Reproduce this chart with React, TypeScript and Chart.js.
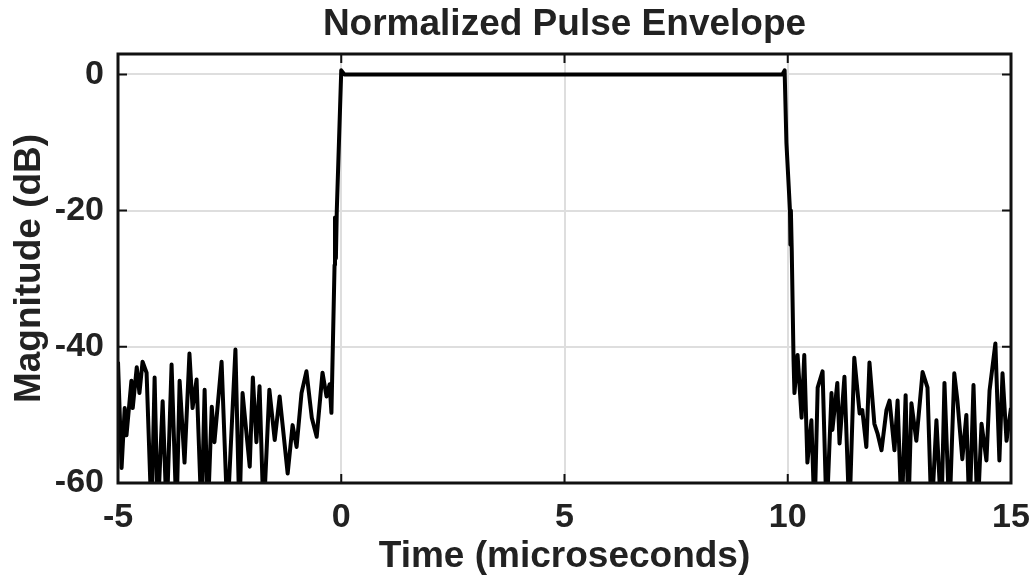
import React, { useEffect, useRef } from 'react';
import { Chart, registerables } from 'chart.js';

Chart.register(...registerables);

const chartTitle = 'Normalized Pulse Envelope';
const xAxisTitle = 'Time (microseconds)';
const yAxisTitle = 'Magnitude (dB)';
const xTicks = [-5, 0, 5, 10, 15];
const yTicks = [-60, -40, -20, 0];
const xRange = [-5, 15];
const yRange = [-60, 3];

// Time samples (microseconds)
const timeUs = [
  -5.0, -4.92, -4.85, -4.81, -4.7, -4.67, -4.58, -4.52, -4.45, -4.36,
  -4.25, -4.18, -4.11, -4.0, -3.91, -3.8, -3.69, -3.62, -3.51, -3.4,
  -3.33, -3.24, -3.13, -3.06, -2.99, -2.9, -2.84, -2.68, -2.55, -2.37,
  -2.28, -2.21, -2.05, -1.98, -1.9, -1.83, -1.74, -1.61, -1.49, -1.38,
  -1.2, -1.09, -1.0, -0.89, -0.78, -0.66, -0.55, -0.42, -0.33, -0.26,
  -0.22, -0.15, -0.14, -0.12, -0.1, 0.0, 0.07,
  1, 2, 3, 4, 5, 6, 7, 8, 9, 9.88,
  9.93, 9.97, 10.05, 10.06, 10.07, 10.09, 10.13, 10.15, 10.22, 10.31,
  10.37, 10.44, 10.53, 10.6, 10.67, 10.78, 10.87, 10.98, 11.0, 11.11,
  11.16, 11.27, 11.38, 11.49, 11.61, 11.67, 11.76, 11.83, 11.94, 12.01,
  12.1, 12.21, 12.28, 12.39, 12.46, 12.55, 12.64, 12.7, 12.77, 12.88,
  13.02, 13.13, 13.22, 13.33, 13.44, 13.51, 13.62, 13.73, 13.8, 13.91,
  14.0, 14.07, 14.16, 14.25, 14.34, 14.45, 14.52, 14.65, 14.74, 14.81,
  14.9, 15.0,
];

// Normalized magnitude (dB); values under -60 fall below the axis floor
const magnitudeDb = [
  -42.2, -57.8, -49, -53, -45, -49, -43, -46.8, -42.2, -43.8,
  -65, -44.5, -65, -48, -65, -42.6, -65, -45, -57, -41,
  -49, -44.8, -65, -46.3, -65, -48.8, -54, -42.2, -65, -40.4,
  -65, -46.8, -57.6, -44.5, -54, -45.8, -65, -46.3, -53.7, -47.3,
  -58.6, -51.5, -54.7, -46.8, -43.6, -50.4, -53.2, -43.8, -47.3, -45.5,
  -49.7, -28, -21, -27, -20, 0.6, 0,
  0, 0, 0, 0, 0, 0, 0, 0, 0, 0,
  0.6, -10, -20, -25, -20, -26, -42, -46.8, -41.2, -50.4,
  -41.2, -57, -50.8, -65, -46, -43.6, -65, -46.8, -52.2, -45.3,
  -54.2, -44.4, -65, -41.6, -49.8, -49.3, -54.7, -42.3, -51.3, -52.7,
  -55.2, -49.3, -47.9, -55.2, -47.9, -65, -47.1, -65, -48.3, -53.8,
  -43.7, -46, -65, -50.8, -65, -45.3, -65, -43.9, -47.9, -56.5,
  -50, -65, -45.6, -65, -51.3, -56.7, -46.4, -39.5, -56.7, -43.9,
  -53.8, -49,
];

const FONT = '"Liberation Sans", Arial, Helvetica, sans-serif';
const TEXT = '#222222';

const boxPlugin = {
  id: 'matlabBox',
  afterDraw(chart: any) {
    const { ctx, chartArea: a, scales } = chart;
    const tl = 9;
    ctx.save();
    ctx.strokeStyle = '#111111';
    ctx.lineWidth = 2;
    ctx.beginPath();
    xTicks.forEach((v) => {
      const px = scales.x.getPixelForValue(v);
      ctx.moveTo(px, a.bottom);
      ctx.lineTo(px, a.bottom - tl);
      ctx.moveTo(px, a.top);
      ctx.lineTo(px, a.top + tl);
    });
    yTicks.forEach((v) => {
      const py = scales.y.getPixelForValue(v);
      ctx.moveTo(a.left, py);
      ctx.lineTo(a.left + tl, py);
      ctx.moveTo(a.right, py);
      ctx.lineTo(a.right - tl, py);
    });
    ctx.stroke();
    ctx.lineWidth = 3;
    ctx.strokeRect(a.left, a.top, a.right - a.left, a.bottom - a.top);
    ctx.restore();
  },
};

export default function App() {
  const ref = useRef<HTMLCanvasElement | null>(null);

  useEffect(() => {
    document.body.style.margin = '0';
    const canvas = ref.current;
    if (!canvas) return;
    const points = timeUs.map((t, i) => ({ x: t, y: magnitudeDb[i] }));
    const chart = new Chart(canvas, {
      type: 'line',
      data: {
        datasets: [
          {
            data: points,
            borderColor: '#000000',
            borderWidth: 4,
            borderJoinStyle: 'round',
            pointRadius: 0,
            tension: 0,
            fill: false,
          },
        ],
      },
      options: {
        responsive: false,
        animation: false,
        devicePixelRatio: 1,
        layout: { padding: { left: 0, right: 25, top: 0, bottom: 0 } },
        plugins: {
          legend: { display: false },
          tooltip: { enabled: false },
          title: {
            display: true,
            text: chartTitle,
            fullSize: false,
            color: TEXT,
            font: { family: FONT, size: 37, weight: 'bold', lineHeight: 1.2 },
            padding: { top: 3, bottom: 6.6 },
          },
        },
        scales: {
          x: {
            type: 'linear',
            min: xRange[0],
            max: xRange[1],
            afterBuildTicks: (axis: any) => {
              axis.ticks = xTicks.map((v) => ({ value: v }));
            },
            afterFit: (axis: any) => {
              axis.height = 96;
              axis.paddingLeft = 0;
              axis.paddingRight = 0;
            },
            border: { display: false },
            grid: { color: '#dedede', lineWidth: 2, drawTicks: false },
            ticks: {
              color: TEXT,
              padding: 14,
              maxRotation: 0,
              autoSkip: false,
              font: { family: FONT, size: 34, weight: 'bold' },
            },
            title: {
              display: true,
              text: xAxisTitle,
              color: TEXT,
              font: { family: FONT, size: 37, weight: 'bold', lineHeight: 1.2 },
              padding: { top: 0, bottom: 0 },
            },
          },
          y: {
            type: 'linear',
            min: yRange[0],
            max: yRange[1],
            afterBuildTicks: (axis: any) => {
              axis.ticks = yTicks.map((v) => ({ value: v }));
            },
            afterFit: (axis: any) => {
              axis.width = 118;
              axis.paddingTop = 0;
              axis.paddingBottom = 0;
            },
            border: { display: false },
            grid: { color: '#dedede', lineWidth: 2, drawTicks: false },
            ticks: {
              color: TEXT,
              padding: 14,
              autoSkip: false,
              font: { family: FONT, size: 34, weight: 'bold' },
            },
            title: {
              display: true,
              text: yAxisTitle,
              color: TEXT,
              font: { family: FONT, size: 37, weight: 'bold', lineHeight: 1.2 },
              padding: { top: 8, bottom: 0 },
            },
          },
        },
      },
      plugins: [boxPlugin],
    });
    return () => chart.destroy();
  }, []);

  return (
    <div style={{ position: 'absolute', left: 0, top: 0, width: 1036, height: 579, background: '#fff' }}>
      <canvas ref={ref} width={1036} height={579} style={{ display: 'block' }} />
    </div>
  );
}
